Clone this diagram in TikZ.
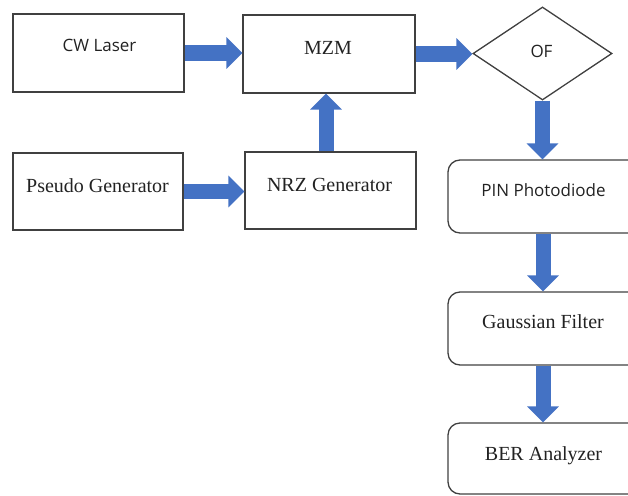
\documentclass[tikz,border=0pt]{standalone}
\usepackage{fontspec}
\setmainfont{Liberation Serif}
\newfontfamily\opensans{Open Sans}
\usetikzlibrary{arrows.meta,shapes.geometric}
\definecolor{arrowblue}{RGB}{68,114,196}
\definecolor{edgegray}{RGB}{64,64,64}
\definecolor{txt}{RGB}{34,34,34}
\tikzset{
  blockbox/.style={draw=edgegray, line width=1.3pt, inner sep=0pt},
  roundbox/.style={blockbox, rounded corners=12pt},
  serif/.style={anchor=base, inner sep=0pt, text=txt, font=\fontsize{20}{24}\selectfont},
  sans/.style={anchor=base, inner sep=0pt, text=txt, font=\opensans\fontsize{17}{20}\selectfont},
  barrow/.style={draw=arrowblue, line width=15pt, -{Triangle[length=16pt, width=31pt, fill=arrowblue]}},
}
\begin{document}
\begin{tikzpicture}[x=1pt,y=-1pt]
\useasboundingbox (0,0) rectangle (628,495);
\clip (0,0) rectangle (628,495);
% boxes
\node[blockbox, minimum width=171pt, minimum height=78pt] (cw) at (98.5,53) {};
\node[blockbox, minimum width=172pt, minimum height=78pt] (mzm) at (329,54) {};
\node[blockbox, minimum width=170pt, minimum height=77pt] (pseudo) at (98,191.5) {};
\node[blockbox, minimum width=171pt, minimum height=77pt] (nrz) at (330.5,190.5) {};
\node[draw=edgegray, line width=1.3pt, diamond, inner sep=0pt, minimum width=139pt, minimum height=93pt] (of) at (542.5,53.5) {};
\node[roundbox, minimum width=192pt, minimum height=73pt] (pin) at (544,196.5) {};
\node[roundbox, minimum width=192pt, minimum height=73pt] (gauss) at (544,328.5) {};
\node[roundbox, minimum width=192pt, minimum height=71pt] (ber) at (544,458.5) {};
% texts
\node[sans] (cwt) at (99.5,52) {CW Laser};
\node[serif] (mzmt) at (328,55) {MZM};
\node[serif] (pseudot) at (97.5,192.5) {Pseudo Generator};
\node[serif] (nrzt) at (329.5,191) {NRZ Generator};
\node[sans] (oft) at (541.5,57) {OF};
\node[sans] (pint) at (543.5,196) {PIN Photodiode};
\node[serif] (gausst) at (543,328) {Gaussian Filter};
\node[serif] (bert) at (543.5,460) {BER Analyzer};
% arrows
\draw[barrow] (cw.east) -- (cw.east -| mzm.west);
\draw[barrow] (pseudo.east) -- (pseudo.east -| nrz.west);
\draw[barrow] ([xshift=-4.5pt]nrz.north) coordinate (nup) -- (nup |- mzm.south);
\draw[barrow] (mzm.east) -- (mzm.east -| of.west);
\draw[barrow] (of.south) -- (of.south |- pin.north);
\draw[barrow] ([xshift=-1pt]pin.south) coordinate (p1) -- (p1 |- gauss.north);
\draw[barrow] ([xshift=-1pt]gauss.south) coordinate (g1) -- (g1 |- ber.north);
\end{tikzpicture}
\end{document}
